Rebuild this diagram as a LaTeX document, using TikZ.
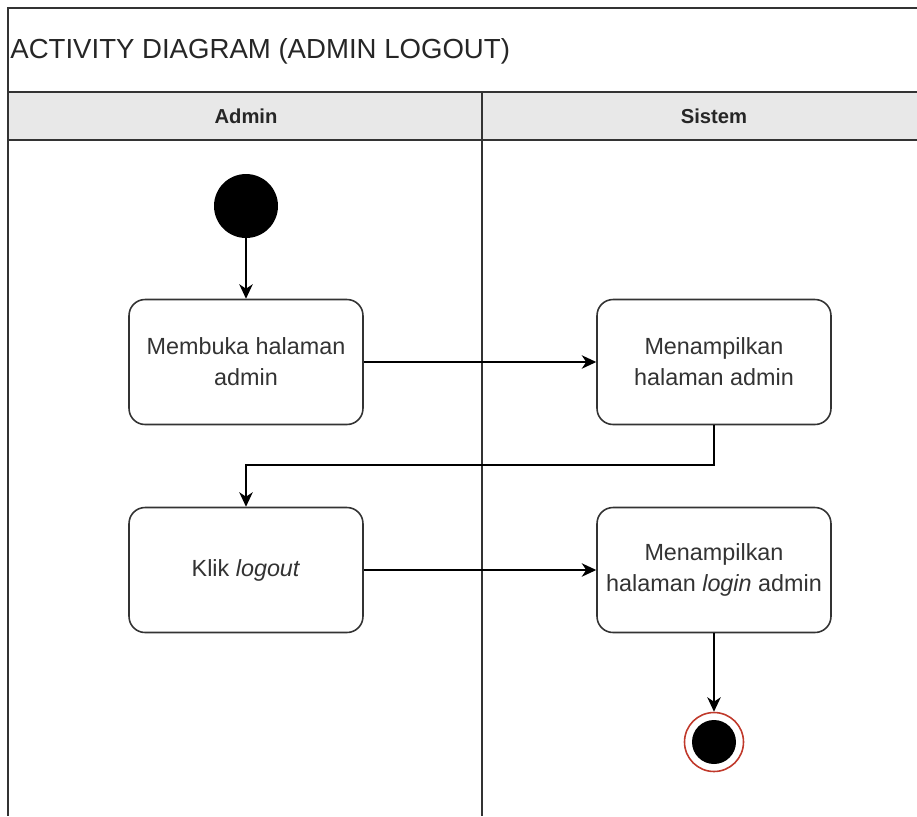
\documentclass[tikz,border=0pt]{standalone}
\usepackage{fontspec}
\setmainfont{Liberation Sans}
\usetikzlibrary{arrows.meta}

\definecolor{lanegray}{HTML}{E8E8E8}
\definecolor{framegray}{HTML}{333333}
\definecolor{endred}{HTML}{C0392B}

\begin{document}
\begin{tikzpicture}[x=0.02cm,y=-0.02cm,
  act/.style={draw=framegray,line width=0.9pt,rounded corners=0.32cm,fill=white,
    minimum width=4.68cm,minimum height=2.5cm,align=center,
    text=black!80,font=\fontsize{13.3}{17.6}\selectfont},
  flow/.style={draw=black,line width=0.8pt,-{Stealth[length=2.9mm,width=2.7mm,inset=0.9mm]}},
  lane/.style={draw=framegray,line width=0.9pt}]

\useasboundingbox (0,0) rectangle (917,816);

% frame and lanes
\fill[lanegray] (8,92) rectangle (917,140);
\draw[lane] (917,8) -- (8,8) -- (8,816);
\draw[lane] (8,92) -- (917,92);
\draw[lane] (8,140) -- (917,140);
\draw[lane] (482,92) -- (482,816);

\node[anchor=west,inner sep=0pt,font=\fontsize{15.7}{18}\selectfont,text=black!85] (title) at (10,51) {ACTIVITY DIAGRAM (ADMIN LOGOUT)};
\node[font=\bfseries\fontsize{11.5}{14}\selectfont,text=black!85] (admin) at (246,116) {Admin};
\node[font=\bfseries\fontsize{11.5}{14}\selectfont,text=black!85] (sistem) at (714,116) {Sistem};

% nodes
\node[circle,fill=black,minimum size=1.28cm,inner sep=0pt] (start) at (246,206) {};

\node[act] (buka) at (246,362) {Membuka halaman\\admin};

\node[act] (tampil) at (714,362) {Menampilkan\\halaman admin};

\node[act] (klik) at (246,570) {Klik \textit{logout}};

\node[act] (login) at (714,570) {Menampilkan\\halaman \textit{login} admin};

\node[circle,draw=endred,line width=0.9pt,fill=white,minimum size=1.18cm,inner sep=0pt] (end) at (714,742) {};
\node[circle,fill=black,minimum size=0.88cm,inner sep=0pt] (endin) at (714,742) {};

% edges
\draw[flow] (start) -- (buka);
\draw[flow] (buka) -- (tampil);
\draw[flow] (tampil.south) |- (480,465) -| (klik.north);
\draw[flow] (klik) -- (login);
\draw[flow] (login) -- (end);
\end{tikzpicture}
\end{document}
